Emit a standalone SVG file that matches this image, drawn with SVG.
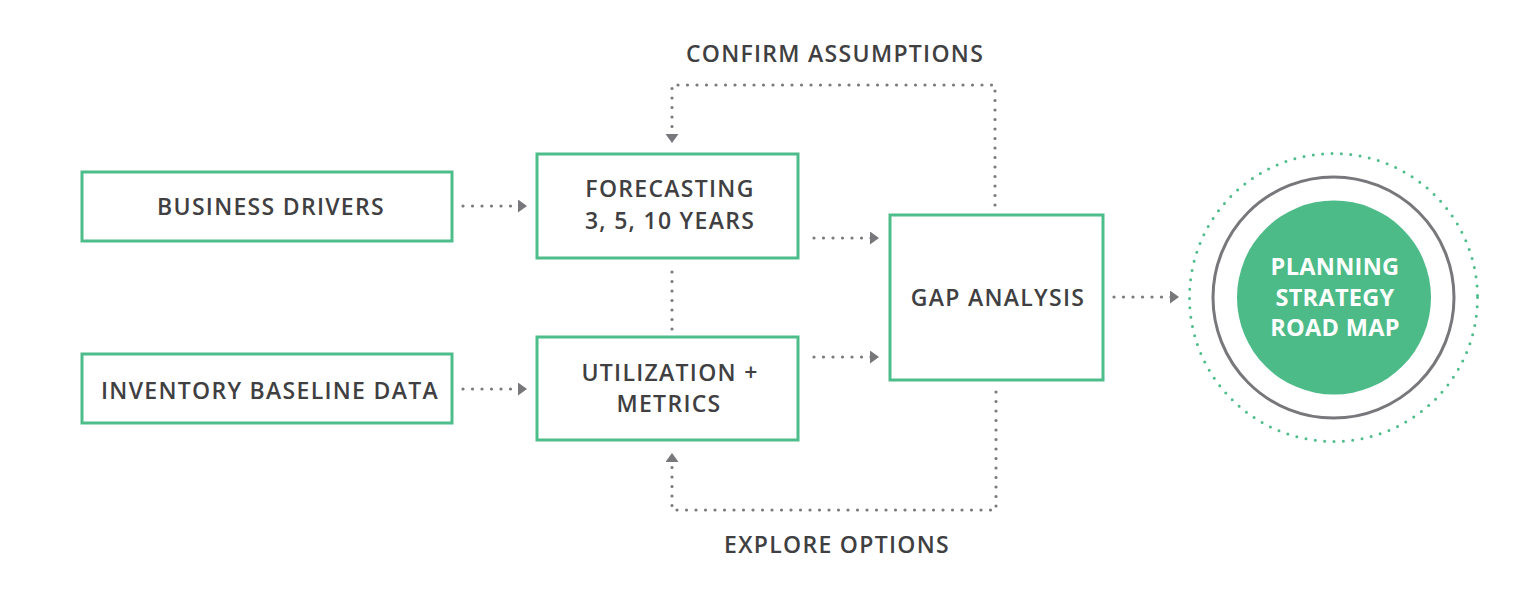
<svg xmlns="http://www.w3.org/2000/svg" width="1537" height="595" viewBox="0 0 1537 595">
<style>
.box{fill:#fff;stroke:#4dbd8a;stroke-width:3}
.lbl{font-family:"Open Sans","Liberation Sans",sans-serif;font-weight:600;font-size:23px;letter-spacing:1.3px;fill:#404042;text-anchor:middle}
.wl{font-family:"Open Sans","Liberation Sans",sans-serif;font-weight:700;font-size:23.5px;letter-spacing:0.3px;fill:#fff;text-anchor:middle}
.dot{fill:none;stroke:#7a7a7f;stroke-width:3.2;stroke-linecap:round;stroke-dasharray:0 9.5}
.gdot{fill:none;stroke:#4dbd8a;stroke-width:3;stroke-linecap:round;stroke-dasharray:0 9.4}
</style>
<defs>
<marker id="ah" markerUnits="userSpaceOnUse" markerWidth="12" markerHeight="14" refX="9" refY="6.5" orient="auto">
<path d="M0,0 L9,6.5 L0,13 z" fill="#77777c"/>
</marker>
</defs>
<rect width="1537" height="595" fill="#fff"/>
<g id="connectors">
<line class="dot" x1="463" y1="206" x2="527" y2="206" marker-end="url(#ah)"/>
<line class="dot" x1="463" y1="389" x2="527" y2="389" marker-end="url(#ah)"/>
<line class="dot" x1="814" y1="238" x2="879" y2="238" marker-end="url(#ah)"/>
<line class="dot" x1="814" y1="357" x2="879" y2="357" marker-end="url(#ah)"/>
<line class="dot" x1="1114" y1="297" x2="1179" y2="297" marker-end="url(#ah)"/>
<line class="dot" x1="672" y1="272" x2="672" y2="330"/>
<path class="dot" d="M995,205 V85 H672 V143" marker-end="url(#ah)"/>
<path class="dot" d="M996,392 V510 H672 V453" marker-end="url(#ah)"/>
<text class="lbl" x="835" y="62">CONFIRM ASSUMPTIONS</text>
<text class="lbl" x="837" y="553">EXPLORE OPTIONS</text>
</g>
<g id="business-drivers">
<rect class="box" x="82" y="172" width="370" height="69"/>
<text class="lbl" x="271" y="215">BUSINESS DRIVERS</text>
</g>
<g id="inventory-baseline">
<rect class="box" x="82" y="354" width="370" height="69"/>
<text class="lbl" x="270" y="399">INVENTORY BASELINE DATA</text>
</g>
<g id="forecasting">
<rect class="box" x="537" y="154" width="261" height="104"/>
<text class="lbl" x="670" y="197">FORECASTING</text>
<text class="lbl" x="670" y="229">3, 5, 10 YEARS</text>
</g>
<g id="utilization">
<rect class="box" x="537" y="337" width="261" height="103"/>
<text class="lbl" x="670" y="381">UTILIZATION +</text>
<text class="lbl" x="669" y="412">METRICS</text>
</g>
<g id="gap-analysis">
<rect class="box" x="890" y="215" width="213" height="165"/>
<text class="lbl" x="998" y="306">GAP ANALYSIS</text>
</g>
<g id="planning-strategy">
<circle class="gdot" cx="1333.5" cy="297.5" r="144"/>
<circle cx="1333.5" cy="297.5" r="120.5" fill="none" stroke="#77777c" stroke-width="3"/>
<circle cx="1334" cy="297.5" r="97" fill="#4cbb88"/>
<text class="wl" x="1335" y="275">PLANNING</text>
<text class="wl" x="1335" y="306">STRATEGY</text>
<text class="wl" x="1335" y="336">ROAD MAP</text>
</g>
</svg>
